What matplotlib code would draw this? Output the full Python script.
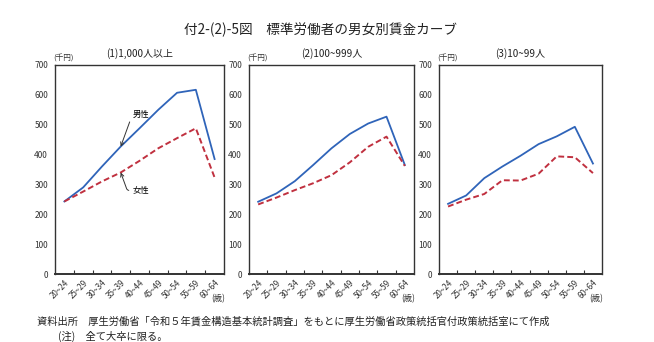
import matplotlib
matplotlib.use('Agg')
import matplotlib.pyplot as plt
from matplotlib.ticker import FixedLocator

plt.rcParams['font.family'] = ['Noto Sans CJK JP', 'DejaVu Sans']

ages = ['20~24', '25~29', '30~34', '35~39', '40~44', '45~49', '50~54', '55~59', '60~64']
panel_titles = ['(1)1,000人以上', '(2)100~999人', '(3)10~99人']

# 所定内給与額（千円）
male_large = [243, 290, 360, 427, 488, 550, 607, 617, 385]
female_large = [243, 276, 310, 340, 379, 421, 455, 488, 323]
male_mid = [242, 270, 311, 365, 421, 469, 504, 527, 365]
female_mid = [233, 256, 281, 304, 331, 374, 426, 460, 362]
male_small = [235, 263, 321, 360, 396, 435, 461, 493, 370]
female_small = [226, 249, 268, 314, 313, 336, 394, 391, 338]

male = [male_large, male_mid, male_small]
female = [female_large, female_mid, female_small]

male_color = '#2f64b9'
female_color = '#c0303f'
axis_color = '#333333'

fig = plt.figure(figsize=(6.54, 3.42), dpi=100)

boxes = [(55, 224), (249, 414), (439, 602)]
W, H = 654, 342
top, bottom = 65, 274

fig.text(321 / W, 1 - 30 / H, '付2-(2)-5図　標準労働者の男女別賃金カーブ',
         ha='center', va='center', fontsize=9.8, color='#222222')

x = list(range(len(ages)))
for i, (x0, x1) in enumerate(boxes):
    ax = fig.add_axes([x0 / W, 1 - bottom / H, (x1 - x0) / W, (bottom - top) / H])
    ax.plot(x, male[i], color=male_color, lw=1.3)
    ax.plot(x, female[i], color=female_color, lw=1.4, linestyle=(0, (3, 1.6)))
    ax.set_xlim(-0.5, len(ages) - 0.5)
    ax.set_ylim(0, 700)
    ax.set_yticks(range(0, 701, 100))
    ax.tick_params(axis='y', length=0, labelsize=6, colors='#333333', pad=5)
    ax.set_xticks(x)
    ax.set_xticklabels(ages, rotation=45, ha='right', va='top',
                       rotation_mode='anchor', fontsize=5.8, color='#333333')
    ax.tick_params(axis='x', which='major', length=0, pad=3)
    ax.xaxis.set_minor_locator(FixedLocator([k + 0.5 for k in range(len(ages) - 1)]))
    ax.tick_params(axis='x', which='minor', direction='in', length=3,
                   width=0.8, color=axis_color)
    for s in ax.spines.values():
        s.set_color(axis_color)
        s.set_linewidth(1.0)
    ax.spines['bottom'].set_linewidth(1.4)
    ax.set_title(panel_titles[i], fontsize=7.2, pad=6, color='#222222')
    ax.text(-0.01, 1.012, '(千円)', transform=ax.transAxes, fontsize=5.5,
            ha='left', va='bottom', color='#333333')
    ax.text(0.965, -0.12, '(歳)', transform=ax.transAxes, fontsize=6,
            ha='center', va='center', color='#333333')

    if i == 0:
        arrow = dict(arrowstyle='->', color='#333333', lw=0.7,
                     connectionstyle='angle,angleA=0,angleB=70,rad=2',
                     shrinkA=1, shrinkB=0)
        ax.annotate('男性', xy=(3, male[0][3]), xytext=(3.65, 535),
                    fontsize=6, ha='left', va='center', arrowprops=arrow)
        arrow2 = dict(arrow, connectionstyle='angle,angleA=0,angleB=-70,rad=2')
        ax.annotate('女性', xy=(3, female[0][3]), xytext=(3.65, 280),
                    fontsize=6, ha='left', va='center', arrowprops=arrow2)

fig.text(37 / W, 1 - 321 / H,
         '資料出所　厚生労働省「令和５年賃金構造基本統計調査」をもとに厚生労働省政策統括官付政策統括室にて作成',
         ha='left', va='center', fontsize=7.4, color='#222222')
fig.text(58 / W, 1 - 336 / H, '(注)　全て大卒に限る。',
         ha='left', va='center', fontsize=7.4, color='#222222')

fig.savefig('out.png', dpi=100)
